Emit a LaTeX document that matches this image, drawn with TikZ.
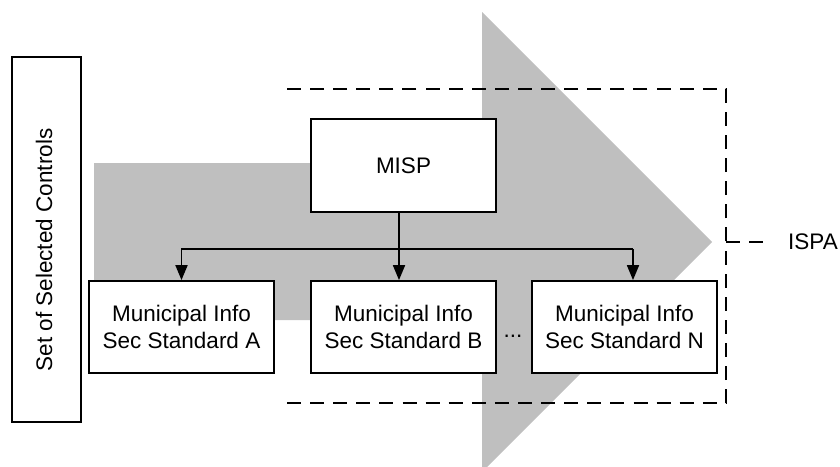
\documentclass[tikz,border=0pt]{standalone}
\usepackage{fontspec}
\setmainfont{Liberation Sans}
\usetikzlibrary{arrows.meta,calc}
\definecolor{flowgrey}{RGB}{191,191,191}
\begin{document}
\begin{tikzpicture}[x=1pt,y=-1pt,
  every node/.style={font=\fontsize{22.5}{27}\selectfont},
  block/.style={draw=black, line width=1.8pt, fill=white, align=center,
    minimum width=185pt, minimum height=92pt, inner sep=0pt},
  wire/.style={line width=1.8pt},
  arr/.style={wire, -{Triangle[width=12pt,length=15pt]}},
  dashline/.style={line width=1.8pt, dash pattern=on 14pt off 9.1pt}]

\useasboundingbox (0,0) rectangle (840,466);

% big grey flow arrow in the background
\begin{scope}
  \clip (0,0) rectangle (840,466);
  \fill[flowgrey] (94,163) -- (482,163) -- (482,12) -- (712,242)
    -- (482,472) -- (482,320) -- (94,320) -- cycle;
\end{scope}

% controls column on the left
\node[draw=black, line width=1.8pt, minimum width=69pt, minimum height=365pt,
  inner sep=0pt] (ctrl) at (46.5,239.5) {};
\node[rotate=90, inner sep=0pt] (ctrltext) at (44,250) {Set of Selected Controls};

% ISPA boundary: a bracket open towards the left
\coordinate (frametl) at (287,89);
\coordinate (frametr) at (726,89);
\coordinate (framebr) at (726,403);
\coordinate (framebl) at (287,403);
\draw[dashline] (framebl) -- (framebr) -- (frametr) -- (frametl);

% policy and standards
\node[block, minimum height=93pt] (misp) at (403.5,165.5) {MISP};
\node[block] (stda) at (181.5,327) {Municipal Info\\Sec Standard A};
\node[block] (stdb) at (403.5,327) {Municipal Info\\Sec Standard B};
\node[block] (stdn) at (624.5,327) {Municipal Info\\Sec Standard N};
\node[anchor=base, inner sep=0pt] (dots) at (513,337) {...};

% distribution from MISP to each standard
\coordinate (bus) at (0,249);
\draw[arr] ([xshift=-4.5pt]misp.south) -- ([xshift=-4.5pt]stdb.north);
\draw[arr] ([xshift=8.5pt]stdn.north |- bus) -- (stda.north |- bus) -- (stda.north);
\draw[arr] ([xshift=8.5pt]stdn.north |- bus) -- ([xshift=8.5pt]stdn.north);

% ISPA label
\node[anchor=west, inner sep=0pt] (ispa) at (788,242) {ISPA};
\coordinate (ispaend) at (763,242);
\draw[dashline] (framebr |- ispaend) -- (ispaend);
\end{tikzpicture}
\end{document}
